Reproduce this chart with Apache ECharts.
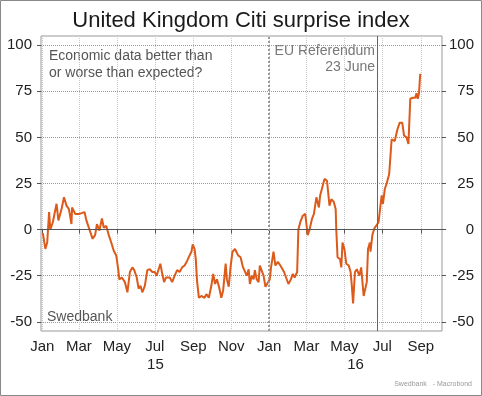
<!DOCTYPE html>
<html>
<head>
<meta charset="utf-8">
<script src="https://cdn.jsdelivr.net/npm/echarts@6/dist/echarts.min.js"></script>
<style>
html, body { margin: 0; padding: 0; background: #fff; }
#chart { width: 482px; height: 396px; }
</style>
</head>
<body>
<div id="chart"></div>
<script>
// surprise index
const dates = [
	'2015-01-02','2015-01-06','2015-01-09','2015-01-12','2015-01-14','2015-01-18','2015-01-24','2015-01-27',
	'2015-02-01','2015-02-05','2015-02-09','2015-02-13','2015-02-17','2015-02-18','2015-02-23',
	'2015-03-02','2015-03-10','2015-03-13','2015-03-18','2015-03-23','2015-03-27','2015-03-30',
	'2015-04-03','2015-04-07','2015-04-10','2015-04-14','2015-04-18','2015-04-22','2015-04-26','2015-04-30',
	'2015-05-03','2015-05-05','2015-05-09','2015-05-14','2015-05-18','2015-05-22','2015-05-26','2015-05-29',
	'2015-06-02','2015-06-05','2015-06-08','2015-06-11','2015-06-15','2015-06-19','2015-06-23','2015-06-27',
	'2015-07-01','2015-07-04','2015-07-07','2015-07-10','2015-07-13','2015-07-16','2015-07-19','2015-07-22','2015-07-25','2015-07-29',
	'2015-08-02','2015-08-06','2015-08-10','2015-08-14','2015-08-18','2015-08-22','2015-08-26','2015-08-29','2015-08-31',
	'2015-09-03','2015-09-05','2015-09-07','2015-09-10','2015-09-14','2015-09-19','2015-09-22','2015-09-26','2015-09-30',
	'2015-10-03','2015-10-06','2015-10-09','2015-10-13','2015-10-16','2015-10-19','2015-10-23','2015-10-25','2015-10-28','2015-10-31',
	'2015-11-03','2015-11-07','2015-11-12','2015-11-16','2015-11-20','2015-11-23','2015-11-26','2015-11-29',
	'2015-12-01','2015-12-04','2015-12-07','2015-12-09','2015-12-12','2015-12-15','2015-12-17','2015-12-20','2015-12-23','2015-12-26','2015-12-29',
	'2016-01-02','2016-01-04','2016-01-08','2016-01-11','2016-01-15','2016-01-19','2016-01-21','2016-01-25','2016-01-28',
	'2016-02-01','2016-02-05','2016-02-08','2016-02-11','2016-02-15','2016-02-17','2016-02-20','2016-02-24','2016-02-28',
	'2016-03-03','2016-03-06','2016-03-10','2016-03-13','2016-03-15','2016-03-17','2016-03-21','2016-03-23','2016-03-26','2016-03-30',
	'2016-04-03','2016-04-05','2016-04-07','2016-04-10','2016-04-14','2016-04-17','2016-04-18','2016-04-20','2016-04-24','2016-04-26','2016-04-28',
	'2016-05-01','2016-05-04','2016-05-08','2016-05-11','2016-05-13','2016-05-15','2016-05-18','2016-05-21','2016-05-25','2016-05-28','2016-05-31',
	'2016-06-01','2016-06-04','2016-06-06','2016-06-08','2016-06-11','2016-06-12','2016-06-15','2016-06-18','2016-06-21','2016-06-25','2016-06-27','2016-06-28','2016-06-30',
	'2016-07-02','2016-07-05','2016-07-08','2016-07-12','2016-07-16','2016-07-18','2016-07-21','2016-07-25','2016-07-29',
	'2016-08-02','2016-08-05','2016-08-09','2016-08-12','2016-08-15','2016-08-19','2016-08-23','2016-08-25','2016-08-27','2016-08-29','2016-08-31'
];
const values = [
	-2, -10.5, -7, 9.5, 0, 4, 14, 5,
	11, 17.5, 13, 11, 3, 12, 8.5,
	8.5, 9.5, 5, 0, -5, -3, 3,
	-0.5, 6, 1, 2, -3, -7, -11.5, -14,
	-21, -27, -26, -28.5, -34, -23, -20.5, -22,
	-26, -32, -30.5, -34, -30.5, -22, -21.5, -23,
	-23, -25, -26, -18.5, -24, -28.5, -26, -27, -26, -28.5,
	-25, -22, -23, -20.5, -19.5, -17, -14, -12, -8,
	-10.5, -16, -28, -37, -36, -37, -35, -37, -30.5,
	-24, -29.5, -27, -32, -37, -33, -18.5, -27, -31, -20,
	-12, -10.5, -14, -15, -20.5, -19.5, -25, -21.5,
	-29.5, -25, -27, -22, -27, -28.5, -19.5, -18.5, -25, -31, -32,
	-27, -20.5, -12, -19.5, -17.5, -19.5, -18.5, -23, -22,
	-29.5, -27, -24, -26, -23, 0, 4, 7.5, 8.5,
	-3, 0, 6, 8.5, 13, 17.5, 12, 18.5, 19.5, 27.5,
	26.5, 26.5, 13, 16.5, 15, 11, -0.5, -15, -16, -20.5, -7,
	-10.5, -18.5, -19.5, -23, -30.5, -40, -23, -21.5, -25, -20.5, -21.5,
	-36, -37, -28.5, -10.5, -7, -12, -3, 0.5, 1.5, 4, 5, 13, 18.5,
	14, 22, 25, 30, 49, 50, 48, 54, 58,
	58, 51, 50, 46.5, 71, 71.5, 71.5, 74, 71, 74, 84.5
];

// axes
const axisStart = '2014-12-30';
const axisEnd = '2016-10-05';
const tickDates = ['2015-01-01','2015-03-01','2015-05-01','2015-07-01','2015-09-01','2015-11-01',
	'2016-01-01','2016-03-01','2016-05-01','2016-07-01','2016-09-01'];
const tickLabels = ['Jan','Mar','May','Jul','Sep','Nov','Jan','Mar','May','Jul','Sep'];
const yearDates = ['2015-07-02','2016-05-19'];
const yearLabels = ['15','16'];
const yTicks = [-50, -25, 0, 25, 50, 75, 100];
const yearStart = '2016-01-01';
const referendumDate = '2016-06-23';

const FONT = 'Liberation Sans, Arial, sans-serif';
const t = s => +echarts.time.parse(s);
const pick = (list, labels) => v => {
	const i = list.findIndex(d => Math.abs(t(d) - v) < 86400000);
	return i < 0 ? '' : labels[i];
};

const chart = echarts.init(document.getElementById('chart'));
chart.setOption({
	animation: false,
	textStyle: { fontFamily: FONT },
	title: {
		text: 'United Kingdom Citi surprise index',
		left: 'center',
		top: 5,
		textStyle: { fontSize: 22, fontWeight: 'normal', color: '#1a1a1a', fontFamily: FONT }
	},
	grid: {
		left: 41, top: 36, width: 401, height: 295,
		show: true, borderColor: '#999', borderWidth: 1,
		containLabel: false, outerBoundsMode: 'none'
	},
	xAxis: [{
		type: 'value',
		min: t(axisStart),
		max: t(axisEnd),
		axisLine: { show: false },
		axisTick: { show: true, customValues: tickDates.map(t), length: 4, lineStyle: { color: '#555' } },
		axisLabel: {
			customValues: tickDates.map(t),
			formatter: pick(tickDates, tickLabels),
			color: '#222', fontSize: 15, margin: 8, fontFamily: FONT
		},
		splitLine: { show: true, lineStyle: { type: 'dotted', color: '#c8c8c8' } }
	}, {
		type: 'value',
		position: 'bottom',
		min: t(axisStart),
		max: t(axisEnd),
		axisLine: { show: false },
		axisTick: { show: false },
		axisLabel: {
			customValues: yearDates.map(t),
			formatter: pick(yearDates, yearLabels),
			color: '#222', fontSize: 15, margin: 26, fontFamily: FONT
		},
		splitLine: { show: false }
	}],
	yAxis: [{
		type: 'value',
		position: 'left',
		min: -55, max: 105,
		axisLine: { show: false },
		axisTick: { show: true, customValues: yTicks, length: 4, lineStyle: { color: '#555' } },
		axisLabel: { customValues: yTicks, color: '#222', fontSize: 15, margin: 9, fontFamily: FONT },
		splitLine: { show: true, lineStyle: { type: 'dotted', color: '#999' } }
	}, {
		type: 'value',
		position: 'right',
		min: -55, max: 105,
		axisLine: { show: false },
		axisTick: { show: true, customValues: yTicks, length: 4, lineStyle: { color: '#555' } },
		axisLabel: { customValues: yTicks, color: '#222', fontSize: 15, margin: 32, align: 'right', fontFamily: FONT },
		splitLine: { show: false }
	}],
	series: [{
		// reference lines under the index
		type: 'line',
		data: [],
		z: 1,
		markLine: {
			silent: true,
			symbol: ['none', 'none'],
			label: { show: false },
			data: [
				{ yAxis: 0, lineStyle: { type: 'solid', color: '#555', width: 1 } },
				{ xAxis: t(yearStart), lineStyle: { type: 'dotted', color: '#999', width: 2 } },
				{ xAxis: t(referendumDate), lineStyle: { type: 'solid', color: '#666', width: 1 } }
			]
		}
	}, {
		name: 'Citi surprise index',
		type: 'line',
		z: 2,
		data: dates.map((d, i) => [t(d), values[i]]),
		showSymbol: false,
		lineStyle: { color: '#dc5a1a', width: 2 }
	}],
	graphic: [{
		type: 'rect',
		shape: { x: 0.5, y: 0.5, width: 481, height: 395 },
		style: { fill: 'none', stroke: '#888', lineWidth: 1 },
		silent: true
	}, {
		type: 'text',
		x: 49, y: 48,
		style: { text: 'Economic data better than\nor worse than expected?', fill: '#555', font: '14px ' + FONT, lineHeight: 17 }
	}, {
		type: 'text',
		x: 375, y: 43,
		style: { text: 'EU Referendum\n23 June', fill: '#777', font: '14px ' + FONT, lineHeight: 16, align: 'right' }
	}, {
		type: 'text',
		x: 47, y: 310,
		style: { text: 'Swedbank', fill: '#555', font: '14px ' + FONT }
	}, {
		type: 'text',
		x: 472, y: 381,
		style: { text: 'Swedbank   - Macrobond', fill: '#999', font: '7px ' + FONT, align: 'right' }
	}]
});
</script>
</body>
</html>
